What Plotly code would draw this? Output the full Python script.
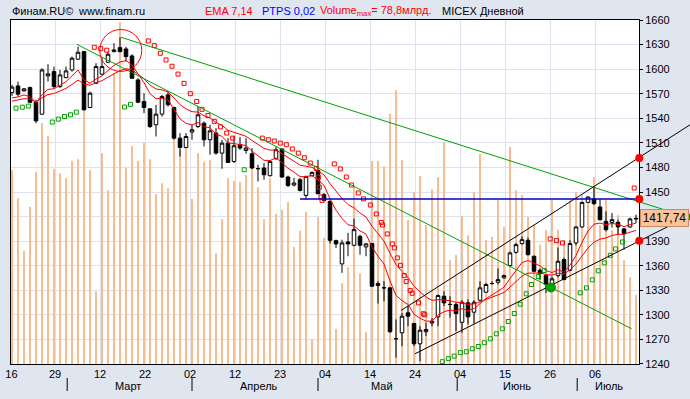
import plotly.graph_objects as go

# ---------------- data ----------------
bar_index = list(range(105))

open_ = [1571.5,1579.6,1573.5,1577.6,1559.7,1545.1,1591.8,1597.1,1578.8,1589.7,
         1599.1,1612.2,1621.5,1553.2,1582.9,1593.9,1608.5,1621.5,1626.3,1624.7,
         1616.2,1586.9,1560.5,1551.6,1532.1,1545.1,1568.6,1553.2,1515.8,1504.4,
         1523.2,1530.0,1534.1,1513.8,1521.9,1497.5,1509.7,1487.3,1507.7,1500.7,
         1496.7,1478.4,1479.3,1469.9,1490.6,1502.4,1468.3,1458.5,1465.0,1445.8,
         1469.9,1476.3,1446.7,1438.5,1390.6,1362.2,1389.0,1384.9,1395.8,1382.9,
         1387.0,1335.7,1332.9,1332.9,1270.7,1278.0,1302.4,1289.4,1264.6,1279.3,
         1290.0,1297.5,1322.7,1312.5,1312.5,1290.9,1314.6,1303.2,1317.8,1327.6,
         1338.1,1339.8,1345.1,1360.1,1376.3,1387.0,1391.0,1371.5,1354.4,1347.9,
         1334.1,1347.9,1367.4,1354.4,1387.8,1407.3,1437.3,1441.5,1431.7,1414.1,
         1412.9,1412.9,1404.9,1407.3,1417.0]
high = [1581.0,1584.9,1577.0,1578.8,1562.6,1601.2,1606.1,1603.2,1599.1,1603.2,
        1615.4,1627.5,1622.3,1572.7,1607.3,1613.4,1621.5,1631.7,1639.0,1627.5,
        1618.3,1589.0,1570.7,1552.4,1556.5,1568.6,1572.7,1554.4,1521.9,1521.9,
        1532.1,1554.4,1536.1,1532.1,1528.0,1513.8,1515.8,1518.6,1517.1,1515.8,
        1503.7,1483.3,1485.4,1488.5,1505.6,1503.7,1469.9,1467.1,1467.1,1469.9,
        1475.1,1489.4,1448.8,1439.7,1391.8,1391.8,1400.0,1417.4,1397.9,1387.8,
        1387.8,1341.0,1341.0,1333.5,1294.3,1302.4,1310.5,1290.2,1286.1,1290.2,
        1296.0,1324.7,1328.8,1322.7,1315.0,1317.8,1318.7,1317.8,1341.0,1339.0,
        1341.0,1356.5,1349.1,1377.2,1387.8,1395.8,1394.3,1372.3,1356.5,1349.1,
        1346.7,1382.1,1369.9,1391.0,1408.0,1438.0,1444.7,1456.8,1441.5,1426.3,
        1424.4,1416.2,1406.1,1418.6,1422.3]
low = [1567.4,1566.6,1572.6,1558.5,1534.1,1544.3,1584.9,1576.8,1576.8,1589.0,
       1597.1,1611.3,1549.7,1552.4,1581.7,1593.0,1607.3,1620.5,1620.5,1609.3,
       1588.2,1558.5,1546.3,1528.0,1517.8,1542.2,1554.4,1513.8,1493.4,1503.6,
       1513.8,1528.0,1505.6,1495.5,1495.5,1478.4,1485.4,1485.4,1501.6,1496.7,
       1478.0,1462.9,1465.0,1469.0,1489.4,1467.1,1456.1,1456.8,1450.7,1440.6,
       1469.0,1447.1,1438.5,1387.0,1381.7,1351.2,1371.5,1383.7,1373.5,1371.5,
       1334.1,1313.8,1316.6,1278.0,1247.6,1261.7,1286.1,1261.7,1243.4,1273.9,
       1286.0,1286.1,1310.5,1296.7,1280.0,1278.0,1288.2,1289.4,1316.6,1326.8,
       1337.0,1337.0,1344.2,1358.9,1374.7,1385.7,1372.3,1352.0,1343.0,1326.8,
       1330.8,1345.5,1342.2,1353.2,1384.9,1406.5,1436.6,1434.5,1415.0,1401.9,
       1406.5,1397.9,1379.6,1406.5,1412.2]
close = [1578.1,1569.5,1576.0,1559.7,1536.9,1599.1,1594.3,1578.8,1593.0,1597.9,
         1613.4,1620.7,1550.4,1570.7,1603.2,1603.2,1618.3,1623.5,1621.5,1615.4,
         1589.0,1559.7,1553.2,1530.0,1545.1,1566.6,1556.5,1515.8,1504.4,1517.8,
         1526.0,1544.3,1513.8,1524.7,1497.5,1509.7,1486.1,1506.5,1503.7,1503.7,
         1479.3,1478.6,1471.1,1487.3,1501.6,1468.3,1458.0,1461.0,1451.9,1469.0,
         1473.9,1447.9,1439.7,1391.0,1386.6,1387.8,1386.6,1404.0,1384.9,1386.6,
         1334.9,1338.2,1333.0,1279.3,1270.8,1298.3,1298.3,1264.6,1281.2,1282.1,
         1292.0,1323.5,1314.6,1312.7,1301.6,1315.4,1297.5,1315.4,1332.9,1337.0,
         1338.2,1343.0,1347.9,1375.6,1385.7,1391.8,1373.5,1353.2,1350.3,1337.0,
         1343.9,1365.4,1343.0,1387.0,1407.3,1437.3,1443.9,1435.7,1416.2,1404.0,
         1416.2,1407.3,1399.2,1417.1,1417.74]
volume_bn = [44.4,38.0,25.9,36.0,44.0,55.2,52.2,44.7,43.7,42.6,
             46.5,46.9,58.6,44.4,16.7,48.3,39.8,66.6,78.3,44.9,
             49.9,46.5,50.6,46.9,38.9,41.4,40.3,51.3,49.0,50.2,
             37.8,48.3,46.3,46.7,25.4,33.2,42.6,41.9,41.7,43.3,
             47.2,40.5,33.2,42.6,34.4,35.3,37.1,26.8,30.5,34.8,
             5.7,33.7,28.9,37.6,8.0,18.5,22.2,41.0,20.8,7.3,
             46.5,46.5,45.3,57.3,62.7,46.7,33.0,39.4,43.1,31.8,
             40.0,42.8,50.8,23.8,25.0,33.9,29.5,39.4,48.1,28.4,
             29.1,37.6,31.4,49.7,39.8,38.7,33.7,31.8,27.3,30.7,
             37.6,30.7,28.4,37.6,39.4,38.7,37.6,42.8,31.8,37.6,
             30.7,34.1,23.8,19.9,15.8]
ema7 = [1565.0,1566.1,1568.6,1566.4,1559.0,1569.0,1575.3,1576.2,1580.4,1584.8,
        1591.9,1599.1,1586.9,1582.9,1588.0,1591.8,1598.4,1604.7,1608.9,1610.5,
        1605.1,1593.8,1583.6,1570.2,1563.9,1564.6,1562.6,1550.9,1539.3,1533.9,
        1531.9,1535.0,1529.7,1528.5,1520.7,1518.0,1510.0,1509.1,1507.8,1506.8,
        1499.9,1494.6,1488.7,1488.4,1491.7,1485.8,1478.9,1474.4,1468.8,1468.8,
        1470.1,1464.5,1458.3,1441.5,1427.8,1417.8,1410.0,1408.5,1402.6,1398.6,
        1382.7,1371.6,1361.9,1341.3,1323.7,1317.3,1312.6,1300.6,1295.7,1292.3,
        1292.2,1300.0,1303.7,1305.9,1304.8,1307.5,1305.0,1307.6,1313.9,1319.7,
        1324.3,1329.0,1333.7,1344.2,1354.6,1363.9,1366.3,1363.0,1359.8,1354.1,
        1351.6,1355.0,1352.0,1360.8,1372.4,1388.6,1402.4,1410.7,1412.1,1410.1,
        1411.6,1410.5,1407.7,1410.1,1412.0]
ema14 = [1561.0,1562.1,1564.0,1563.4,1559.9,1565.1,1569.0,1570.3,1573.3,1576.6,
         1581.5,1586.7,1581.9,1580.4,1583.4,1586.0,1590.3,1594.7,1598.3,1600.6,
         1599.1,1593.8,1588.4,1580.6,1575.9,1574.7,1572.3,1564.8,1556.7,1551.5,
         1548.1,1547.6,1543.1,1540.6,1534.9,1531.5,1525.4,1522.9,1520.3,1518.1,
         1512.9,1508.3,1503.3,1501.2,1501.3,1496.9,1491.7,1487.6,1482.8,1481.0,
         1480.1,1475.8,1471.0,1460.3,1450.5,1442.1,1434.7,1430.6,1424.5,1419.4,
         1408.1,1398.8,1390.0,1375.2,1361.3,1352.9,1345.6,1334.8,1327.7,1321.6,
         1317.7,1318.5,1318.0,1317.3,1315.2,1315.2,1312.8,1313.2,1315.8,1318.6,
         1321.2,1324.1,1327.3,1333.7,1340.6,1347.4,1350.9,1351.2,1351.1,1349.2,
         1348.5,1350.8,1349.8,1354.8,1361.8,1371.9,1381.5,1388.7,1392.4,1393.9,
         1396.9,1398.3,1398.4,1400.9,1403.1]

# Parabolic SAR points (bar position, price)
sar_below_x = [0.67,1.72,2.72,6.72,7.72,8.75,9.75,10.72,18.75,19.75,38.7,
               71.72,72.72,73.7,74.72,75.72,76.72,77.72,78.72,79.72,80.72,81.72,
               82.72,83.72,84.7,85.7,86.58,87.72,88.7,
               94.7,95.75,96.72,97.72,98.72,99.72,100.58,101.75]
sar_below_y = [1552.4,1553.6,1554.9,1535.4,1539.0,1542.2,1544.3,1547.5,1553.8,1557.1,1477.2,
               1242.7,1246.5,1249.5,1253.8,1254.9,1258.5,1261.3,1265.9,1270.7,1276.8,1282.9,
               1291.8,1301.6,1312.9,1325.6,1337.0,1346.7,1354.0,
               1326.8,1332.9,1342.7,1353.7,1363.4,1372.7,1380.5,1389.0]
sar_above_x = [13.72,14.78,15.78,22.72,23.72,24.72,25.67,26.67,27.67,28.67,29.72,30.78,
               31.67,32.67,33.72,34.75,35.78,36.78,41.72,42.72,43.72,44.72,45.72,46.72,
               47.72,48.72,49.72,50.7,51.05,51.22,51.5,51.67,53.72,54.72,55.72,56.58,
               57.72,58.58,59.72,60.72,61.55,61.75,62.55,63.38,63.72,64.22,64.75,65.37,
               65.7,66.37,66.7,67.75,68.55,68.78,89.7,90.75,91.75,103.7]
sar_above_y = [1626.8,1625.1,1623.2,1634.5,1628.8,1619.5,1611.3,1603.6,1594.0,1582.7,1570.1,1560.5,
               1551.0,1543.4,1536.3,1529.6,1522.0,1515.8,1515.8,1513.8,1512.3,1509.7,1507.7,1502.6,
               1497.5,1491.8,1485.4,1478.8,1468.0,1455.8,1443.9,1439.7,1484.3,1478.2,1468.3,1458.5,
               1448.8,1441.6,1434.1,1423.2,1412.8,1409.7,1398.8,1386.6,1381.8,1369.5,1360.4,1347.9,
               1340.6,1329.6,1326.3,1314.6,1301.3,1300.0,1392.7,1390.6,1387.8,1454.9]

# drawn lines (bar position, price)
green_line_a_x, green_line_a_y = [18.17, 112.5], [1639.0, 1419.5]
green_line_b_x, green_line_b_y = [10.78, 103.28], [1630.5, 1282.9]
channel_top_x, channel_top_y = [64.83, 113.0], [1305.2, 1532.1]
channel_bot_x, channel_bot_y = [67.17, 112.5], [1252.4, 1419.5]
level_x, level_y = [48.0, 104.55], [1441.5, 1441.5]
edge_dots_x, edge_dots_y = [104.55, 104.55, 104.55], [1491.5, 1441.5, 1390.6]
far_dot_x, far_dot_y = [112.5], [1419.5]
touch_dot_x, touch_dot_y = [89.83], [1333.3]
circle_center_x, circle_center_y = 18.13, 1622.9
circle_radius_x, circle_radius_y = 3.5, 25.6

price_ticks = [1240, 1270, 1300, 1330, 1360, 1390, 1420, 1450, 1480, 1510, 1540, 1570, 1600, 1630, 1660]
price_tick_text = ["1240", "1270", "1300", "1330", "1360", "1390", "", "1450", "1480", "1510",
                   "1540", "1570", "1600", "1630", "1660"]  # 1420 is covered by the last-price box
x_tick_pos = [-0.1, 7.17, 14.67, 22.17, 29.67, 37.17, 44.67, 52.17, 59.67, 67.17, 74.67, 82.17, 89.67, 97.17]
x_tick_text = ["16", "29", "12", "22", "02", "12", "23", "04", "14", "24", "04", "15", "26", "06"]
month_names = ["Март", "Апрель", "Май", "Июнь", "Июль"]
month_label_pos = [19.3, 41.2, 61.7, 84.2, 99.5]
month_start_pos = [9.2, 30.0, 51.0, 74.2, 94.2]

# ---------------- layout constants ----------------
W, H = 690, 399
ML, MR, MT, MB = 11, 0, 20, 35
PX_PER_BAR = 6.0
PLOT_RIGHT = 639
XMIN = -1.0 / 6
XMAX = XMIN + (PLOT_RIGHT - ML) / PX_PER_BAR
XMAX2 = XMIN + (W - ML - MR) / PX_PER_BAR
DX = (PLOT_RIGHT - ML) / (W - ML - MR)
PMIN, PMAX = 1240, 1660
VOL_MAX = 78.8

BG = "#E0E6F0"
GRID = "#DDE2EE"
VOLC = "#F9BC91"
GREEN = "#00A000"
RED = "#FF0000"
FONT = "Arial, 'Liberation Sans', sans-serif"


def px_x(px):
    return (px - ML) / (W - ML - MR)


def px_y(py):
    return (H - MB - py) / (H - MT - MB)


fig = go.Figure()

fig.add_trace(go.Bar(x=bar_index, y=volume_bn, width=0.34, marker=dict(color=VOLC, line=dict(width=0)),
                     xaxis="x", yaxis="y", hoverinfo="skip"))

fig.add_trace(go.Candlestick(
    x=bar_index, open=open_, high=high, low=low, close=close,
    xaxis="x", yaxis="y2", whiskerwidth=0,
    increasing=dict(line=dict(color="black", width=1), fillcolor="white"),
    decreasing=dict(line=dict(color="black", width=1), fillcolor="black"),
))

fig.add_trace(go.Scatter(x=bar_index, y=ema14, mode="lines", line=dict(color=RED, width=1),
                         xaxis="x", yaxis="y2"))
fig.add_trace(go.Scatter(x=bar_index, y=ema7, mode="lines", line=dict(color=RED, width=1),
                         xaxis="x", yaxis="y2"))

fig.add_trace(go.Scatter(x=sar_below_x, y=sar_below_y, mode="markers",
                         marker=dict(symbol="square-open", size=4, color=GREEN, line=dict(width=1, color=GREEN)),
                         xaxis="x", yaxis="y2"))
fig.add_trace(go.Scatter(x=sar_above_x, y=sar_above_y, mode="markers",
                         marker=dict(symbol="square-open", size=4, color=RED, line=dict(width=1, color=RED)),
                         xaxis="x", yaxis="y2"))

# lines drawn on the wide overlay axes (they run past the plot frame)
for lx, ly, col, wd in [(green_line_a_x, green_line_a_y, GREEN, 1),
                        (green_line_b_x, green_line_b_y, GREEN, 1),
                        (channel_top_x, channel_top_y, "black", 1),
                        (channel_bot_x, channel_bot_y, "black", 1),
                        (level_x, level_y, "#0000CC", 1.4)]:
    fig.add_trace(go.Scatter(x=lx, y=ly, mode="lines", line=dict(color=col, width=wd),
                             xaxis="x2", yaxis="y3"))

fig.add_trace(go.Scatter(x=edge_dots_x, y=edge_dots_y, mode="markers",
                         marker=dict(size=8, color=RED), xaxis="x2", yaxis="y3", cliponaxis=False))
fig.add_trace(go.Scatter(x=far_dot_x, y=far_dot_y, mode="markers",
                         marker=dict(size=8, color=GREEN), xaxis="x2", yaxis="y3", cliponaxis=False))
fig.add_trace(go.Scatter(x=touch_dot_x, y=touch_dot_y, mode="markers",
                         marker=dict(size=10, color=GREEN), xaxis="x2", yaxis="y3"))

shapes = [
    # white plotting area (plot_bgcolor is transparent so the overlay subplot does not hide it)
    dict(type="rect", xref="paper", yref="paper", x0=0, x1=DX, y0=0, y1=1,
         fillcolor="white", line=dict(width=0), layer="below"),
    dict(type="circle", xref="x", yref="y2",
         x0=circle_center_x - circle_radius_x, x1=circle_center_x + circle_radius_x,
         y0=circle_center_y - circle_radius_y, y1=circle_center_y + circle_radius_y,
         line=dict(color=RED, width=1), layer="above"),
]
for m in month_start_pos:
    shapes.append(dict(type="line", xref="x", yref="paper", x0=m, x1=m,
                       y0=px_y(378), y1=px_y(391), line=dict(color="black", width=1)))

annotations = []
for name, pos in zip(month_names, month_label_pos):
    annotations.append(dict(x=pos, y=px_y(386), xref="x", yref="paper", text=name, showarrow=False,
                            font=dict(family=FONT, size=11, color="black"), xanchor="center", yanchor="middle"))

header = [(10, "Финам.RU©", "black"), (76, "www.finam.ru", "black"), (203, "EMA 7,14", RED),
          (260, "PTPS 0,02", "#0000FF"), (318, "Volume<sub>max</sub>= 78,8млрд.", RED),
          (440, "MICEX Дневной", "black")]
for px, txt, col in header:
    annotations.append(dict(x=px_x(px), y=px_y(11), xref="paper", yref="paper", text=txt, showarrow=False,
                            font=dict(family=FONT, size=11, color=col), xanchor="left", yanchor="middle"))

last_txt = f"{close[-1]:.2f}".replace(".", ",")
annotations.append(dict(x=px_x(640), y=close[-1], xref="paper", yref="y3", text=last_txt, showarrow=False,
                        font=dict(family=FONT, size=12, color="black"), xanchor="left", yanchor="middle",
                        bgcolor="#FAC39B", bordercolor="#C88A60", borderwidth=1, borderpad=1, width=45))

fig.update_layout(
    width=W, height=H, autosize=False,
    margin=dict(l=ML, r=MR, t=MT, b=MB, pad=0),
    paper_bgcolor=BG, plot_bgcolor="rgba(0,0,0,0)",
    showlegend=False, boxgap=0.15,
    font=dict(family=FONT, size=11, color="black"),
    xaxis=dict(domain=[0, DX], range=[XMIN, XMAX], anchor="y",
               tickmode="array", tickvals=x_tick_pos, ticktext=x_tick_text,
               showgrid=True, gridcolor=GRID, gridwidth=1, zeroline=False,
               showline=True, mirror=True, linecolor="black", linewidth=1,
               ticks="", tickfont=dict(size=11), rangeslider=dict(visible=False), fixedrange=True),
    yaxis=dict(domain=[0, 1], range=[0, VOL_MAX], anchor="x", visible=False, showgrid=False, fixedrange=True),
    yaxis2=dict(overlaying="y", anchor="x", side="right", range=[PMIN - 0.1, PMAX + 0.1],
                tickmode="array", tickvals=price_ticks, ticktext=price_tick_text,
                showgrid=True, gridcolor=GRID, gridwidth=1, zeroline=False,
                showline=True, mirror=True, linecolor="black", linewidth=1,
                ticks="outside", ticklen=3, tickcolor="black", tickfont=dict(size=11), fixedrange=True),
    xaxis2=dict(domain=[0, 1], range=[XMIN, XMAX2], anchor="y3", visible=False, fixedrange=True),
    yaxis3=dict(domain=[0, 1], range=[PMIN - 0.1, PMAX + 0.1], anchor="x2", visible=False, fixedrange=True),
    shapes=shapes, annotations=annotations,
)

fig.write_html("out.html", config={"displayModeBar": False},
               post_script="document.body.style.margin='0';document.body.style.background='" + BG + "';")
